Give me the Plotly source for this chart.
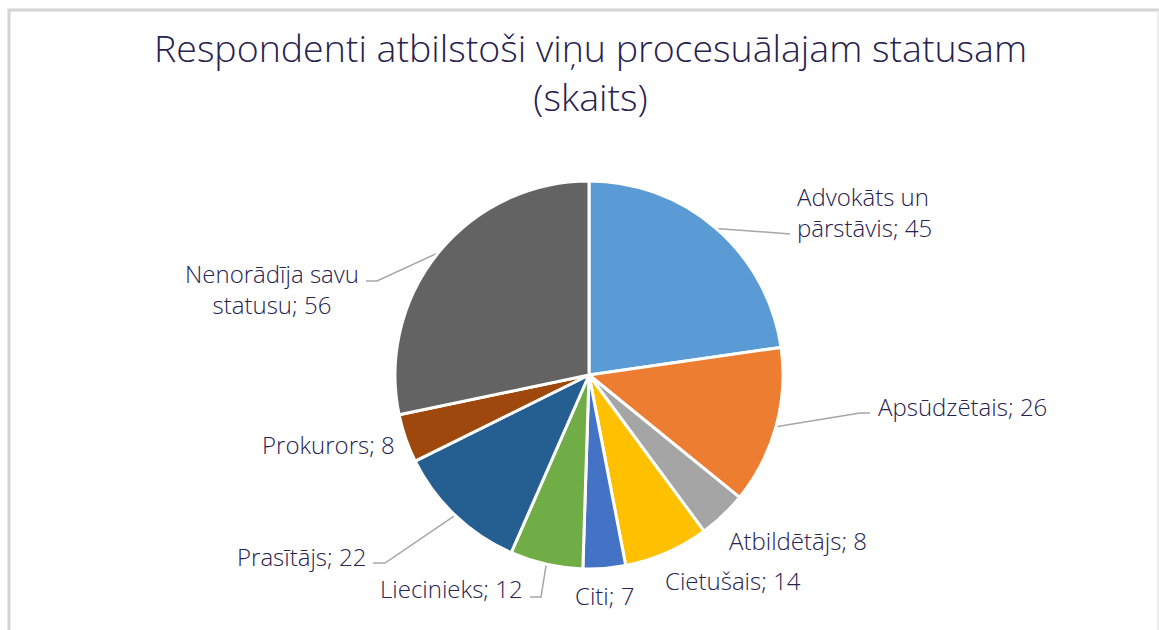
import math
import plotly.graph_objects as go

# ---- data ----
categories = ["Advokāts un pārstāvis", "Apsūdzētais", "Atbildētājs", "Cietušais",
              "Citi", "Liecinieks", "Prasītājs", "Prokurors", "Nenorādīja savu statusu"]
values = [45, 26, 8, 14, 7, 12, 22, 8, 56]
label_texts = ["Advokāts un<br>pārstāvis; 45", "Apsūdzētais; 26", "Atbildētājs; 8",
               "Cietušais; 14", "Citi; 7", "Liecinieks; 12", "Prasītājs; 22",
               "Prokurors; 8", "Nenorādīja savu<br>statusu; 56"]
title_text = "Respondenti atbilstoši viņu procesuālajam statusam<br>(skaits)"

# ---- style ----
colors = ["#5B9BD5", "#ED7D31", "#A5A5A5", "#FFC000", "#4472C4",
          "#70AD47", "#255E91", "#9E480E", "#636363"]
W, H = 1159, 630
CX, CY, R = 589, 375, 194
TXT = "#27224F"
FONT = "Open Sans"

# label placement (pixel space): (x, y, xanchor, align)
label_pos = [
    (795, 212, "left", "left"),
    (876, 406, "left", "left"),
    (727, 540, "left", "left"),
    (663, 580, "left", "left"),
    (573, 595, "left", "left"),
    (525, 588, "right", "right"),
    (368, 556, "right", "right"),
    (397, 444, "right", "right"),
    (272, 289, "center", "center"),
]
# leader elbows (pixel space) for labels that have a leader line, else None
leader_elbow = [
    ((782, 234), (790, 234)),
    ((860, 413), (870, 413)),
    None, None, None,
    ((541, 597), (530, 597)),
    ((385, 563), (373, 563)),
    None,
    ((377, 281), (366, 281)),
]

fig = go.Figure()

fig.add_trace(go.Pie(
    labels=categories, values=values, sort=False, direction="clockwise",
    rotation=0, textinfo="none", hoverinfo="label+value",
    marker=dict(colors=colors, line=dict(color="white", width=3)),
    domain=dict(x=[(CX - R) / W, (CX + R) / W], y=[1 - (CY + R) / H, 1 - (CY - R) / H]),
    showlegend=False,
))

total = sum(values)
cum = 0
for i, v in enumerate(values):
    mid = (cum + v / 2) / total * 2 * math.pi
    cum += v
    px = CX + R * math.sin(mid)
    py = CY - R * math.cos(mid)
    if leader_elbow[i] is not None:
        (ex, ey), (hx, hy) = leader_elbow[i]
        fig.add_trace(go.Scatter(x=[px, ex, hx], y=[py, ey, hy], mode="lines",
                                 line=dict(color="#A6A6A6", width=1.5),
                                 hoverinfo="skip", showlegend=False))
    lx, ly, xa, al = label_pos[i]
    fig.add_annotation(x=lx, y=ly, xref="x", yref="y", text=label_texts[i],
                       showarrow=False, xanchor=xa, yanchor="middle", align=al,
                       font=dict(family=FONT, size=24, color=TXT, weight=300))

fig.add_annotation(x=590, y=72, xref="x", yref="y", text=title_text, showarrow=False,
                   xanchor="center", yanchor="middle", align="center",
                   font=dict(family=FONT, size=37.5, color=TXT, weight=300))

# chart frame
fig.add_trace(go.Scatter(x=[9, 9, W + 5], y=[H + 5, 10, 10], mode="lines",
                         line=dict(color="#D4D4D4", width=3),
                         hoverinfo="skip", showlegend=False))
fig.add_trace(go.Scatter(x=[W - 1, W - 1], y=[10, H + 5], mode="lines",
                         line=dict(color="#E6E6E6", width=1.5),
                         hoverinfo="skip", showlegend=False))

fig.update_xaxes(range=[0, W], visible=False, fixedrange=True)
fig.update_yaxes(range=[H, 0], visible=False, fixedrange=True)
fig.update_layout(width=W, height=H, margin=dict(l=0, r=0, t=0, b=0),
                  paper_bgcolor="white", plot_bgcolor="rgba(0,0,0,0)")

fig.write_html("out.html", config={"displayModeBar": False},
               post_script="document.body.style.margin='0px';document.body.style.overflow='hidden';")
